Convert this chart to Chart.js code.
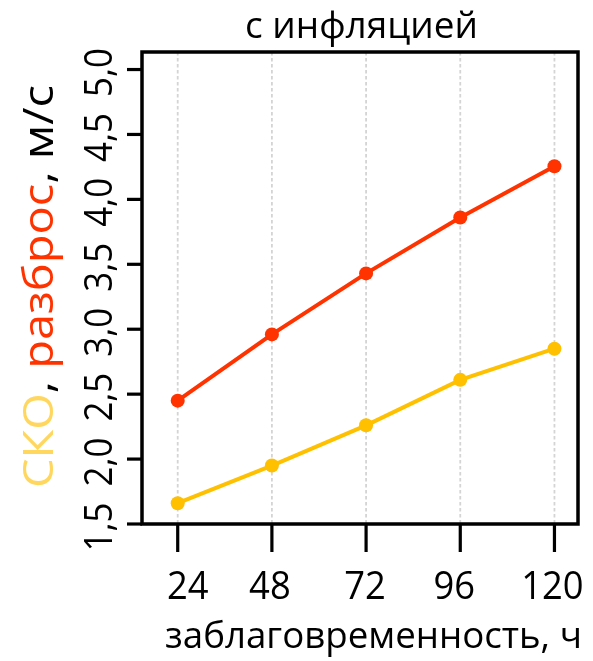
<!DOCTYPE html>
<html>
<head>
<meta charset="utf-8">
<script src="https://cdn.jsdelivr.net/npm/chart.js@4/dist/chart.umd.min.js"></script>
<style>
html,body{margin:0;padding:0;background:#fff;}
#wrap{width:593px;height:661px;}
</style>
</head>
<body>
<div id="wrap"><canvas id="c" width="593" height="661"></canvas></div>
<script>
const leadTimes = [24, 48, 72, 96, 120];
const skoValues = [1.66, 1.95, 2.26, 2.61, 2.85];
const spreadValues = [2.45, 2.96, 3.43, 3.86, 4.255];
const yTickValues = [1.5, 2.0, 2.5, 3.0, 3.5, 4.0, 4.5, 5.0];
const yTickLabels = ['1,5', '2,0', '2,5', '3,0', '3,5', '4,0', '4,5', '5,0'];
const xTickLabels = ['24', '48', '72', '96', '120'];
const titleText = 'с инфляцией';
const xTitle = 'заблаговременность, ч';
const yTitleParts = [
  {text: 'СКО', color: '#FFD75E'},
  {text: ', ', color: '#000000'},
  {text: 'разброс', color: '#FF3300'},
  {text: ', м/с', color: '#000000'}
];

const FONT = '"Open Sans", "DejaVu Sans", sans-serif';
const XLABEL_NUDGE = [10, -2, -1, -6, -2];

// draw text at a given size, horizontally scaled by sx
function drawText(ctx, text, size, sx, x, y, align) {
  ctx.font = size + 'px ' + FONT;
  ctx.save();
  ctx.translate(x, y);
  ctx.scale(sx, 1);
  ctx.textAlign = align || 'center';
  ctx.fillText(text, 0, 0);
  ctx.restore();
}
function fitSize(ctx, text, targetW, base) {
  ctx.font = base + 'px ' + FONT;
  return base * targetW / ctx.measureText(text).width;
}

const decor = {
  id: 'decor',
  beforeDatasetsDraw(chart) {
    const ctx = chart.ctx, a = chart.chartArea, xs = chart.scales.x;
    ctx.save();
    ctx.strokeStyle = '#d4d4d4';
    ctx.lineWidth = 1.8;
    ctx.setLineDash([3.5, 2.5]);
    leadTimes.forEach(v => {
      const px = xs.getPixelForValue(v);
      ctx.beginPath(); ctx.moveTo(px, a.top); ctx.lineTo(px, a.bottom); ctx.stroke();
    });
    ctx.restore();
  },
  afterDraw(chart) {
    const ctx = chart.ctx, a = chart.chartArea, xs = chart.scales.x, ys = chart.scales.y;
    ctx.save();
    ctx.strokeStyle = '#000';
    ctx.lineWidth = 3.5;
    ctx.strokeRect(a.left, a.top, a.right - a.left, a.bottom - a.top);
    ctx.lineWidth = 3.2;
    yTickValues.forEach(v => {
      const py = ys.getPixelForValue(v);
      ctx.beginPath(); ctx.moveTo(a.left - 15, py); ctx.lineTo(a.left, py); ctx.stroke();
    });
    leadTimes.forEach(v => {
      const px = xs.getPixelForValue(v);
      ctx.beginPath(); ctx.moveTo(px, a.bottom); ctx.lineTo(px, a.bottom + 28); ctx.stroke();
    });
    ctx.fillStyle = '#000';
    ctx.textBaseline = 'alphabetic';
    // x tick labels
    leadTimes.forEach((v, i) => {
      drawText(ctx, xTickLabels[i], 37.5, 0.97, xs.getPixelForValue(v) + XLABEL_NUDGE[i], 598.5, 'center');
    });
    // y tick labels (rotated)
    yTickValues.forEach((v, i) => {
      const py = ys.getPixelForValue(v);
      ctx.save();
      ctx.translate(112, py + 3);
      ctx.rotate(-Math.PI / 2);
      drawText(ctx, yTickLabels[i], 37.5, 0.93, 0, 0, 'center');
      ctx.restore();
    });
    // title
    drawText(ctx, titleText, fitSize(ctx, titleText, 233, 34), 1, 361.5, 37.5, 'center');
    // x title
    drawText(ctx, xTitle, fitSize(ctx, xTitle, 417, 36), 1, 373.5, 648, 'center');
    // y title
    const full = yTitleParts.map(p => p.text).join('');
    const size = 42;
    ctx.font = size + 'px ' + FONT;
    const total = ctx.measureText(full).width;
    const sx = 403 / total;
    ctx.save();
    ctx.translate(53, 286.5);
    ctx.rotate(-Math.PI / 2);
    ctx.scale(sx, 1);
    ctx.textAlign = 'left';
    let x0 = -total / 2;
    yTitleParts.forEach(p => {
      ctx.fillStyle = p.color;
      ctx.fillText(p.text, x0, 0);
      x0 += ctx.measureText(p.text).width;
    });
    ctx.restore();
    ctx.restore();
  }
};

new Chart(document.getElementById('c'), {
  type: 'line',
  data: {
    datasets: [
      {
        label: 'разброс',
        data: leadTimes.map((x, i) => ({x: x, y: spreadValues[i]})),
        borderColor: '#FF3300',
        backgroundColor: '#FF3300',
        borderWidth: 4,
        pointRadius: 7,
        pointHoverRadius: 7,
        pointBorderWidth: 0,
        tension: 0
      },
      {
        label: 'СКО',
        data: leadTimes.map((x, i) => ({x: x, y: skoValues[i]})),
        borderColor: '#FFC000',
        backgroundColor: '#FFC000',
        borderWidth: 4,
        pointRadius: 7,
        pointHoverRadius: 7,
        pointBorderWidth: 0,
        tension: 0
      }
    ]
  },
  options: {
    responsive: false,
    animation: false,
    events: [],
    layout: {padding: {left: 142, right: 15, top: 52, bottom: 137}},
    plugins: {legend: {display: false}, title: {display: false}, tooltip: {enabled: false}},
    scales: {
      x: {type: 'linear', display: false, min: 14.9, max: 126},
      y: {type: 'linear', display: false, min: 1.5, max: 5.135}
    }
  },
  plugins: [decor]
});
</script>
</body>
</html>
